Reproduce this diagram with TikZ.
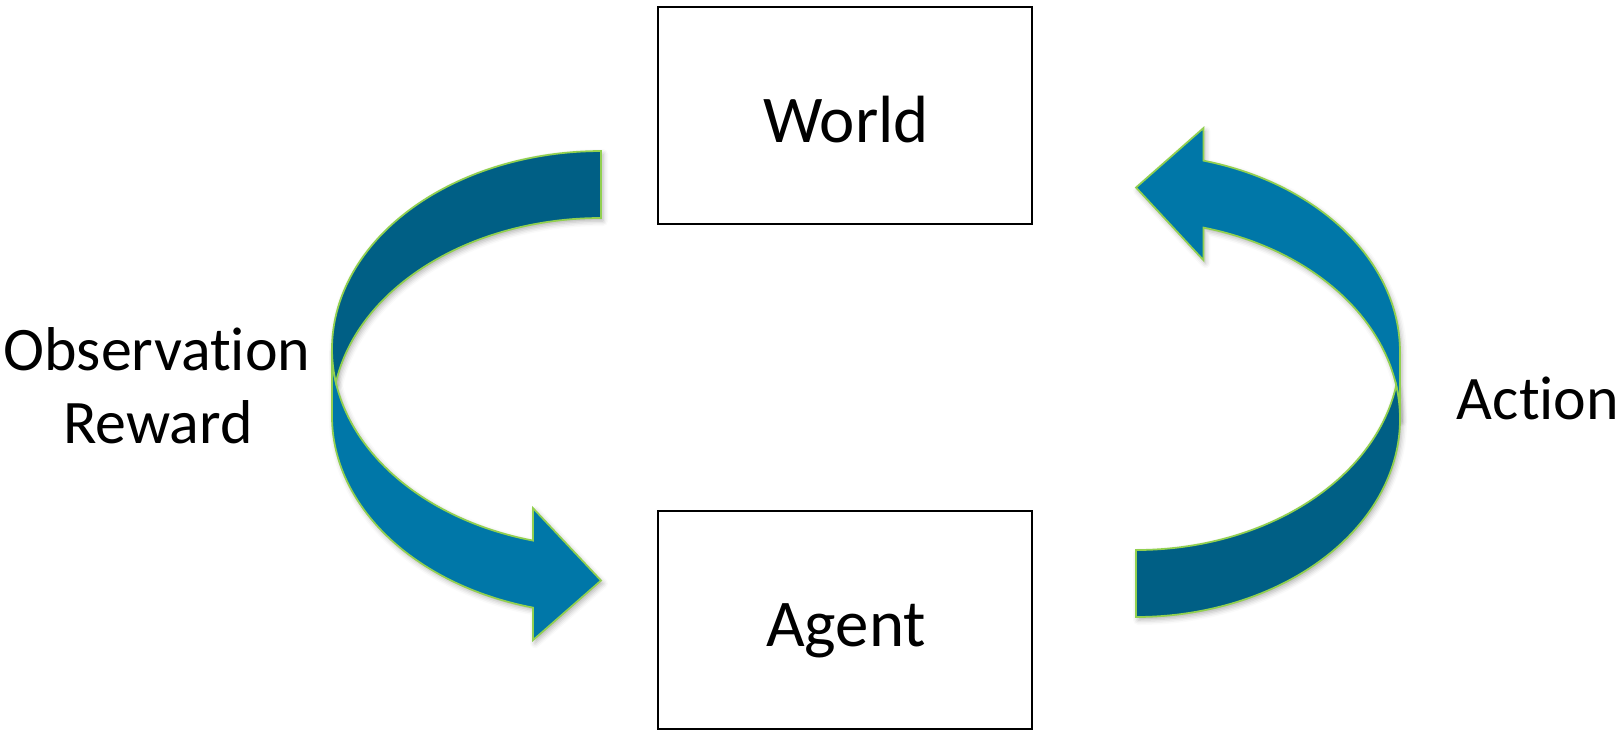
\documentclass[tikz,border=0pt]{standalone}
\usepackage{fontspec}
\setmainfont{Carlito}[Ligatures={NoCommon,NoContextual}]
\usetikzlibrary{shadows.blur}
\definecolor{frontblue}{HTML}{0077A8}
\definecolor{backblue}{HTML}{005F85}
\definecolor{rimgreen}{HTML}{92D050}
\newcommand{\nolig}{\kern0pt}
\begin{document}
\begin{tikzpicture}[x=0.01cm,y=-0.01cm,
  box/.style={draw=black,line width=0.6pt,fill=white,inner sep=0pt},
  lbl/.style={font=\fontsize{17.6}{21.5}\selectfont,anchor=base,inner sep=0pt},
  boxlbl/.style={lbl,font=\fontsize{19}{23}\selectfont},
  band/.style={draw=rimgreen,line width=0.5pt,line join=miter},
  frontband/.style={band,fill=frontblue},
  backband/.style={band,fill=backblue},
  shade/.style={blur shadow={shadow xshift=0.02cm,shadow yshift=-0.03cm,shadow blur radius=0.05cm,shadow opacity=30}}
]
\useasboundingbox (0,0) rectangle (1619,732);
% boxes
\node[box,minimum width=3.74cm,minimum height=2.17cm] (world) at (845,115.5) {};
\node[box,minimum width=3.74cm,minimum height=2.18cm] (agent) at (845,620) {};
\node[boxlbl] (worldtxt) at (846,142) {World};
\node[boxlbl] (agenttxt) at (846,646) {Agent};
% labels
\node[lbl] (obs) at (157,370) {Observat\nolig ion};
\node[lbl] (rew) at (158,443.5) {Reward};
\node[lbl] (act) at (1538,419.6) {Act\nolig ion};
% shadows
\path[shade] (332,349) arc[start angle=180,end angle=104.64,x radius=269,y radius=198] -- (533,508.1) -- (601,580.5) -- (533,640.1) -- (533,607.6) arc[start angle=104.64,end angle=180,x radius=269,y radius=198] -- cycle;
\path[shade] (601,218) arc[start angle=270,end angle=189.74,x radius=269,y radius=198] arc[start angle=170.26,end angle=270,x radius=269,y radius=198] -- cycle;
\path[shade] (1400,419) arc[start angle=0,end angle=-75.2,x radius=264,y radius=198] -- (1203.4,260.1) -- (1136,187.5) -- (1203.4,128.1) -- (1203.4,160.6) arc[start angle=-75.2,end angle=0,x radius=264,y radius=198] -- cycle;
\path[shade] (1136,550) arc[start angle=90,end angle=9.74,x radius=264,y radius=198] arc[start angle=-9.74,end angle=90,x radius=264,y radius=198] -- cycle;
% left arrow (Observation / Reward)
\path[frontband] (332,349) arc[start angle=180,end angle=104.64,x radius=269,y radius=198] -- (533,508.1) -- (601,580.5) -- (533,640.1) -- (533,607.6) arc[start angle=104.64,end angle=180,x radius=269,y radius=198] -- cycle;
\path[backband] (601,218) arc[start angle=270,end angle=189.74,x radius=269,y radius=198] arc[start angle=170.26,end angle=270,x radius=269,y radius=198] -- cycle;
% right arrow (Action)
\path[frontband] (1400,419) arc[start angle=0,end angle=-75.2,x radius=264,y radius=198] -- (1203.4,260.1) -- (1136,187.5) -- (1203.4,128.1) -- (1203.4,160.6) arc[start angle=-75.2,end angle=0,x radius=264,y radius=198] -- cycle;
\path[backband] (1136,550) arc[start angle=90,end angle=9.74,x radius=264,y radius=198] arc[start angle=-9.74,end angle=90,x radius=264,y radius=198] -- cycle;
\end{tikzpicture}
\end{document}
